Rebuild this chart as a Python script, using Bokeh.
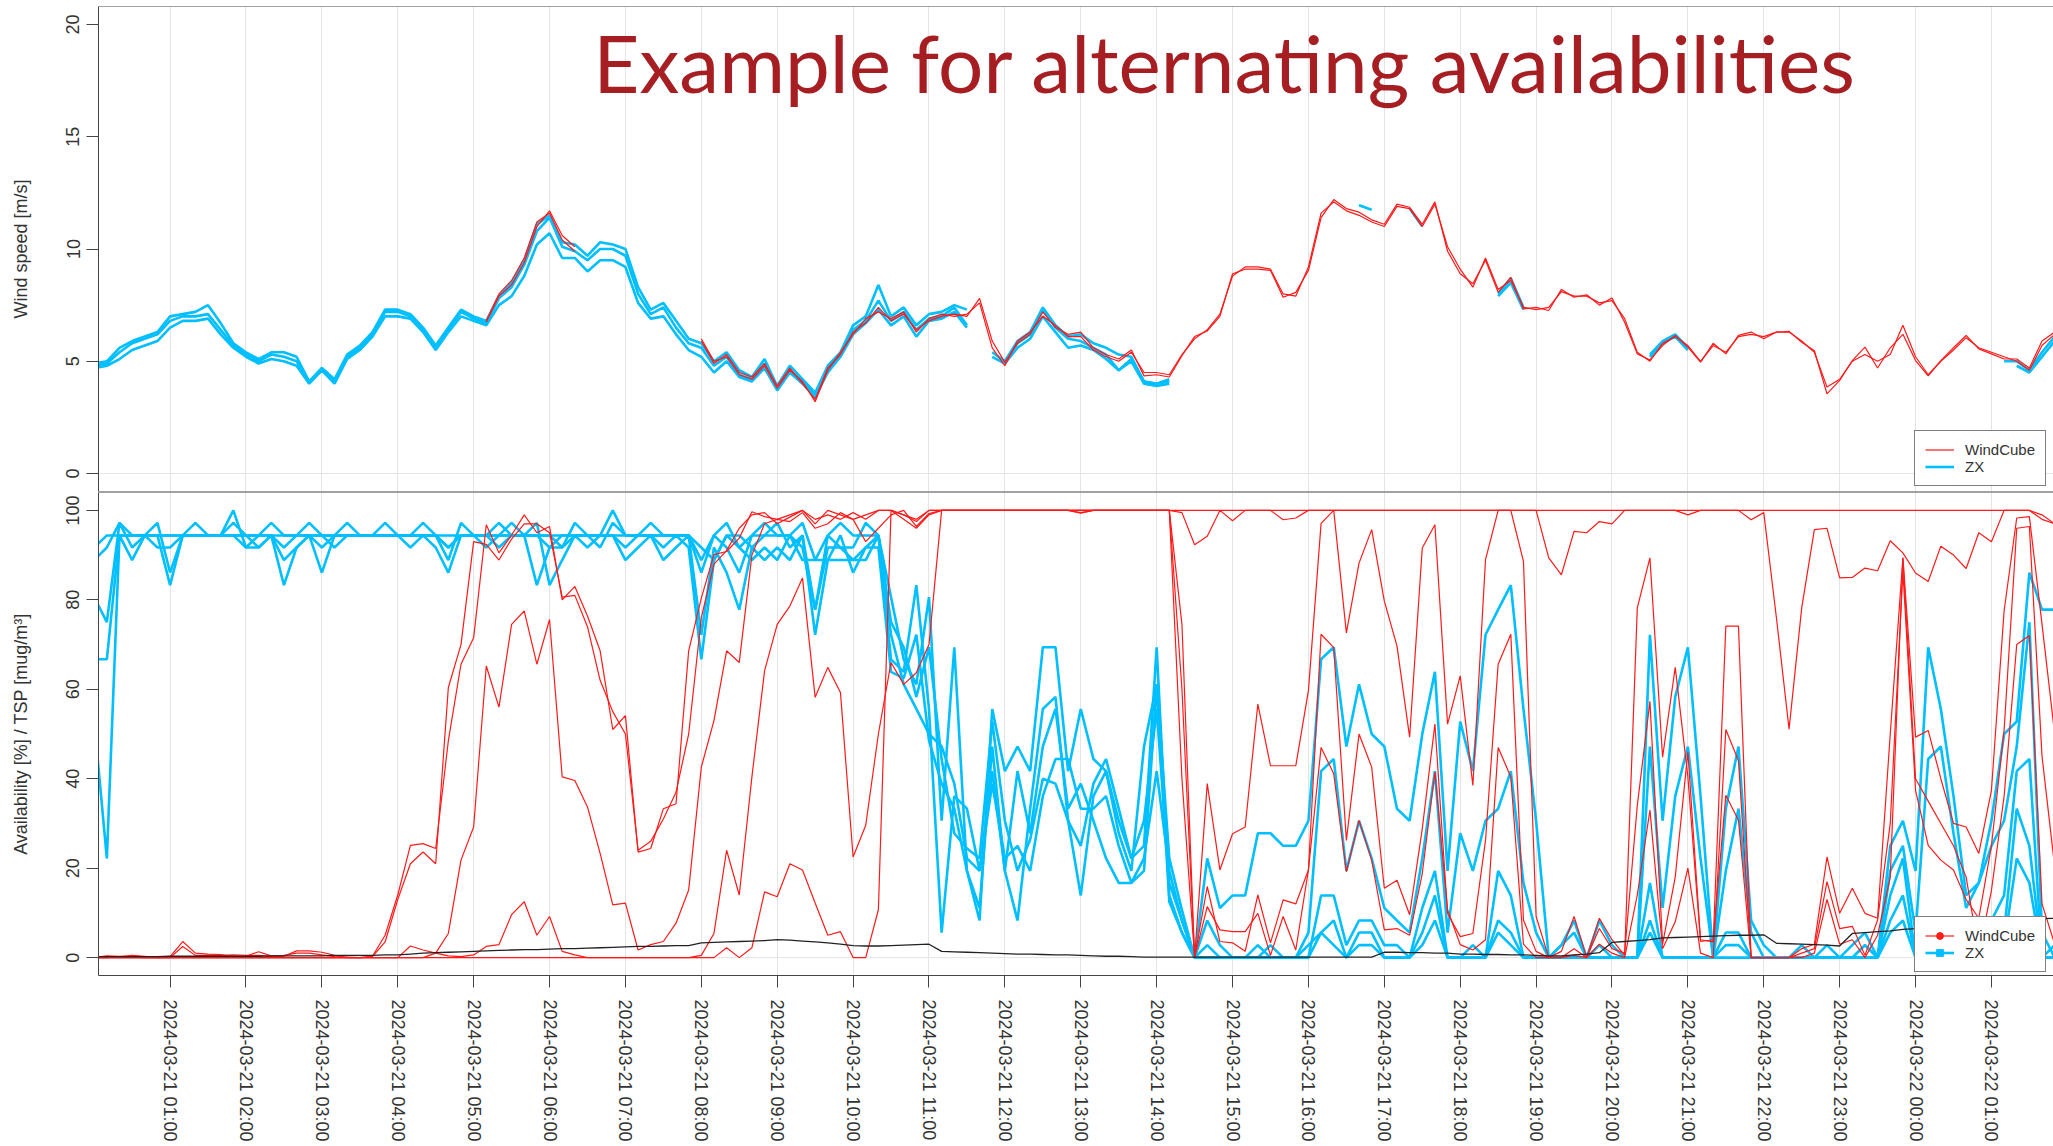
import pandas as pd
from bokeh.plotting import figure
from bokeh.layouts import column
from bokeh.models import (Range1d, FixedTicker, DatetimeTickFormatter, Span, Label,
                          Legend, LegendItem)
from bokeh.embed import file_html
from bokeh.resources import INLINE

nan = float("nan")

# 10-minute time stamps, 2024-03-21 00:00 ... 2024-03-22 01:50
times = pd.date_range("2024-03-21 00:00", periods=156, freq="10min")
hour_ticks = pd.date_range("2024-03-21 01:00", "2024-03-22 01:00", freq="1h")
hour_ms = [t.value / 1e6 for t in hour_ticks]

# ---------------- wind speed [m/s] ----------------
ws_zx_1 = [
    4.8, 4.9, 5.4, 5.8, 6.0, 6.2, 6.8, 7.0, 7.0, 7.1, 6.4, 5.7,
    5.3, 5.0, 5.3, 5.2, 5.0, 4.1, 4.6, 4.1, 5.2, 5.6, 6.2, 7.2,
    7.2, 7.0, 6.4, 5.6, 6.4, 7.2, 6.9, 6.7, 7.8, 8.3, 9.3, 10.8,
    11.4, 10.1, 9.9, 9.5, 10.0, 10.0, 9.7, 8.0, 7.1, 7.4, 6.5, 5.8,
    5.6, 4.8, 5.2, 4.4, 4.2, 4.9, 3.8, 4.6, 4.1, 3.5, 4.6, 5.3,
    6.4, 6.8, 7.7, 6.8, 7.2, 6.4, 6.9, 7.0, 7.4, 6.6, nan, 5.4,
    5.0, 5.8, 6.2, 7.3, 6.5, 6.0, 5.9, 5.6, 5.3, 4.6, 5.1, 4.1,
    4.0, 4.1, nan, nan, nan, nan, nan, nan, nan, nan, nan, nan,
    nan, nan, nan, nan, 11.95, 11.75, nan, nan, 11.8, 11.0, nan, nan,
    nan, nan, nan, 8.0, 8.7, 7.4, nan, nan, nan, nan, nan, nan,
    nan, nan, nan, 5.3, 5.9, 6.2, 5.6, nan, nan, nan, nan, nan,
    nan, nan, nan, nan, nan, nan, nan, nan, nan, nan, nan, nan,
    nan, nan, nan, nan, nan, nan, nan, 5.0, 5.0, 4.6, 5.4, 6.1,
]
ws_zx_2 = [
    4.7, 4.8, 5.1, 5.5, 5.7, 5.9, 6.5, 6.8, 6.8, 6.9, 6.2, 5.6,
    5.2, 4.9, 5.1, 5.0, 4.8, 4.0, 4.6, 4.0, 5.1, 5.5, 6.1, 7.0,
    7.0, 6.9, 6.3, 5.5, 6.3, 7.0, 6.8, 6.6, 7.5, 7.9, 8.8, 10.2,
    10.7, 9.6, 9.6, 9.0, 9.5, 9.5, 9.2, 7.6, 6.9, 7.0, 6.2, 5.5,
    5.2, 4.5, 5.0, 4.3, 4.1, 4.7, 3.7, 4.5, 4.0, 3.4, 4.5, 5.2,
    6.2, 6.7, 7.3, 6.6, 7.0, 6.1, 6.8, 6.9, 7.2, 6.5, nan, 5.2,
    4.9, 5.6, 6.0, 7.0, 6.3, 5.6, 5.7, 5.5, 5.1, 4.6, 5.0, 4.0,
    3.9, 4.0, nan, nan, nan, nan, nan, nan, nan, nan, nan, nan,
    nan, nan, nan, nan, nan, nan, nan, nan, nan, nan, nan, nan,
    nan, nan, nan, 7.9, 8.5, 7.3, nan, nan, nan, nan, nan, nan,
    nan, nan, nan, 5.2, 5.8, 6.1, 5.5, nan, nan, nan, nan, nan,
    nan, nan, nan, nan, nan, nan, nan, nan, nan, nan, nan, nan,
    nan, nan, nan, nan, nan, nan, nan, nan, 4.8, 4.5, 5.2, 5.9,
]
ws_zx_3 = [
    4.9, 5.0, 5.6, 5.9, 6.1, 6.3, 7.0, 7.1, 7.2, 7.5, 6.7, 5.8,
    5.4, 5.1, 5.4, 5.4, 5.2, 4.1, 4.7, 4.2, 5.3, 5.7, 6.3, 7.3,
    7.3, 7.1, 6.5, 5.7, 6.5, 7.3, 7.0, 6.8, 7.9, 8.5, 9.5, 11.1,
    11.5, 10.3, 10.2, 9.7, 10.3, 10.2, 10.0, 8.3, 7.3, 7.6, 6.8, 6.0,
    5.8, 5.0, 5.4, 4.6, 4.3, 5.1, 3.9, 4.8, 4.2, 3.6, 4.8, 5.4,
    6.6, 7.0, 8.4, 7.0, 7.4, 6.6, 7.1, 7.2, 7.5, 7.3, nan, nan,
    5.0, 5.9, 6.3, 7.4, 6.6, 6.1, 6.2, 5.8, 5.6, 5.3, 5.2, 4.1,
    4.0, 4.2, nan, nan, nan, nan, nan, nan, nan, nan, nan, nan,
    nan, nan, nan, nan, nan, nan, nan, nan, nan, nan, nan, nan,
    nan, nan, nan, nan, nan, nan, nan, nan, nan, nan, nan, nan,
    nan, nan, nan, nan, nan, nan, nan, nan, nan, nan, nan, nan,
    nan, nan, nan, nan, nan, nan, nan, nan, nan, nan, nan, nan,
    nan, nan, nan, nan, nan, nan, nan, nan, nan, nan, nan, nan,
]
ws_wc_1 = [
    nan, nan, nan, nan, nan, nan, nan, nan, nan, nan, nan, nan,
    nan, nan, nan, nan, nan, nan, nan, nan, nan, nan, nan, nan,
    nan, nan, nan, nan, nan, nan, nan, 6.75, 7.9, 8.4, 9.4, 11.0,
    11.7, 10.6, 10.1, nan, nan, nan, nan, nan, nan, nan, nan, nan,
    5.9, 4.9, 5.3, 4.5, 4.3, 4.9, 3.9, 4.7, 4.0, 3.3, 4.7, 5.3,
    6.3, 6.7, 7.4, 6.8, 7.1, 6.4, 6.8, 7.0, 7.1, 7.0, 7.8, 5.9,
    4.95, 5.8, 6.2, 7.2, 6.5, 6.2, 6.3, 5.6, 5.3, 5.1, 5.5, 4.35,
    4.4, 4.3, 5.25, 6.1, 6.35, 7.0, 8.9, 9.1, 9.1, 9.05, 7.85, 8.07,
    9.04, 11.4, 12.2, 11.8, 11.64, 11.3, 11.1, 12.0, 11.86, 11.1, 12.1, 9.9,
    8.9, 8.45, 9.5, 8.07, 8.74, 7.33, 7.4, 7.26, 8.2, 7.85, 7.96, 7.5,
    7.82, 6.74, 5.33, 5.06, 5.7, 6.15, 5.63, 4.96, 5.8, 5.33, 6.15, 6.3,
    6.0, 6.3, 6.33, 5.85, 5.47, 3.55, 4.15, 5.03, 5.63, 4.7, 5.6, 6.2,
    5.03, 4.35, 5.03, 5.6, 6.15, 5.55, 5.33, 5.1, 5.1, 4.7, 5.9, 6.3,
]
ws_wc_2 = [
    nan, nan, nan, nan, nan, nan, nan, nan, nan, nan, nan, nan,
    nan, nan, nan, nan, nan, nan, nan, nan, nan, nan, nan, nan,
    nan, nan, nan, nan, nan, nan, nan, 6.8, 8.0, 8.6, 9.6, 11.2,
    11.6, 10.4, 9.9, nan, nan, nan, nan, nan, nan, nan, nan, nan,
    6.0, 5.0, 5.2, 4.4, 4.2, 4.8, 3.8, 4.6, 4.1, 3.2, 4.6, 5.4,
    6.2, 6.9, 7.2, 6.9, 7.2, 6.3, 6.9, 7.1, 7.0, 7.1, 7.6, 5.6,
    4.8, 5.9, 6.3, 7.0, 6.6, 6.1, 6.1, 5.5, 5.2, 5.0, 5.4, 4.5,
    4.5, 4.4, 5.3, 6.0, 6.4, 7.1, 8.8, 9.2, 9.2, 9.1, 8.0, 7.9,
    9.2, 11.6, 12.1, 11.7, 11.5, 11.2, 11.0, 11.9, 11.8, 11.0, 12.0, 10.1,
    9.1, 8.3, 9.6, 8.2, 8.6, 7.4, 7.3, 7.4, 8.1, 7.9, 7.9, 7.6,
    7.7, 6.9, 5.4, 5.0, 5.8, 6.1, 5.7, 5.0, 5.7, 5.4, 6.1, 6.2,
    6.1, 6.3, 6.3, 5.9, 5.4, 3.85, 4.2, 5.0, 5.3, 5.0, 5.3, 6.6,
    5.2, 4.4, 5.0, 5.5, 6.05, 5.6, 5.4, 5.2, 5.0, 4.6, 5.7, 6.2,
]

# ---------------- availability [%] ----------------
av_wc_1 = [
    0, 0.4, 0.3, 0.2, 0, 0, 0.2, 3.6, 1.0, 0.8, 0.7, 0.2,
    0.3, 1.3, 0.4, 0.5, 1.0, 1.0, 0.6, 0.2, 0.1, 0, 0.3, 5.0,
    14.0, 25.1, 25.5, 24.4, 48.5, 65.6, 71.5, 96.8, 90.5, 94.5, 99.0, 95.0,
    96.4, 80.0, 83.0, 76.4, 68.6, 51.0, 54.1, 23.6, 24.4, 33.3, 34.4, 68.6,
    80.4, 90.1, 90.8, 93.8, 99.7, 98.6, 98.0, 99.0, 100, 97.0, 100, 99.0,
    98.0, 99.0, 100, 100, 98.0, 96.0, 99.0, 100, 100, 100, 100, 100,
    100, 100, 100, 100, 100, 100, 100, 100, 100, 100, 100, 100,
    100, 100, 74.5, 0, 38.9, 19.6, 27.7, 29.2, 56.7, 42.9, 42.9, 42.9,
    59.7, 97.1, 100, 72.6, 88.2, 95.7, 79.7, 69.7, 49.3, 91.6, 96.8, 52.2,
    63.0, 38.5, 89.0, 100, 100, 88.6, 9.2, 0, 1.4, 9.2, 0, 8.8,
    4.0, 0.5, 78.2, 89.4, 44.8, 64.9, 40.4, 3.6, 4.0, 36.3, 30.7, 0,
    0, 0, 0, 2.0, 3.0, 22.5, 9.9, 15.5, 9.9, 8.8, 50.0, 89.4,
    49.3, 50.8, 40.0, 30.0, 29.2, 23.3, 37.4, 77.5, 98.3, 98.6, 74.5, 50.0,
]
av_wc_2 = [
    0, 0, 0.2, 0.5, 0.3, 0, 0, 2.5, 0.5, 0.5, 0.5, 0.6,
    0.5, 0.5, 0.2, 0.3, 1.5, 1.5, 1.2, 0.5, 0, 0, 0.2, 3.5,
    13.0, 21.0, 23.6, 21.0, 60.4, 70.0, 93.0, 92.4, 88.9, 93.6, 97.0, 97.0,
    95.0, 80.6, 81.0, 74.0, 62.0, 55.0, 50.0, 24.0, 26.0, 31.0, 37.0, 50.0,
    76.0, 88.0, 91.0, 96.0, 99.0, 99.5, 97.0, 98.5, 100, 98.0, 99.0, 98.0,
    99.5, 98.0, 100, 100, 99.0, 97.5, 100, 100, 100, 100, 100, 100,
    100, 100, 100, 100, 100, 100, 99.4, 100, 100, 100, 100, 100,
    100, 100, 100, 100, 100, 100, 100, 100, 100, 100, 100, 100,
    100, 100, 100, 100, 100, 100, 100, 100, 100, 100, 100, 100,
    100, 100, 100, 100, 100, 100, 100, 100, 100, 100, 100, 100,
    100, 100, 100, 100, 100, 100, 100, 100, 100, 100, 100, 100,
    100, 100, 100, 100, 100, 100, 100, 100, 100, 100, 100, 100,
    100, 100, 100, 100, 100, 100, 100, 100, 100, 100, 98.0, 97.0,
]
av_wc_3 = [
    0, 0, 0, 0, 0, 0, 0, 0, 0, 0, 0, 0,
    0, 0, 0, 0, 0, 0, 0, 0, 0, 0, 0, 0,
    0, 0, 0, 1.0, 5.4, 21.8, 29.2, 65.2, 56.0, 74.5, 77.5, 65.6,
    75.6, 40.4, 39.6, 33.7, 23.3, 11.8, 12.2, 1.7, 2.9, 3.6, 7.7, 15.1,
    42.6, 53.0, 68.6, 66.0, 90.0, 97.0, 98.0, 97.5, 99.5, 96.0, 97.0, 99.5,
    98.0, 93.0, 96.0, 99.0, 100, 96.4, 99.3, 100, 100, 100, 100, 100,
    100, 100, 100, 100, 100, 100, 100, 100, 100, 100, 100, 100,
    100, 100, 60.0, 0, 15.9, 3.6, 3.3, 1.4, 14.0, 3.3, 12.9, 12.0,
    19.6, 72.3, 69.3, 26.2, 50.0, 42.6, 15.5, 17.3, 9.6, 28.8, 52.2, 9.9,
    4.7, 5.4, 26.2, 65.6, 72.3, 8.4, 1.4, 0, 0, 0.5, 0, 6.5,
    2.0, 1.0, 34.0, 57.3, 3.0, 18.0, 46.0, 4.0, 3.5, 74.1, 74.1, 0,
    0, 0, 0, 1.0, 2.0, 17.0, 6.5, 7.0, 0.5, 8.4, 30.0, 86.4,
    37.4, 25.1, 21.8, 19.6, 13.0, 8.8, 25.0, 50.8, 96.0, 96.4, 45.0, 20.3,
]
av_wc_4 = [
    0, 0, 0, 0, 0, 0, 0, 0, 0, 0, 0, 0,
    0, 0, 0, 0, 0, 0, 0, 0, 0, 0, 0, 0,
    0, 2.6, 1.7, 1.0, 0.4, 0.2, 0.6, 2.5, 2.9, 9.6, 12.5, 5.0,
    9.2, 1.4, 0.6, 0, 0, 0, 0, 0, 0, 0, 0, 0,
    0, 0, 2.2, 0, 2.2, 14.7, 13.6, 21.0, 19.6, 12.2, 5.0, 5.8,
    0, 0, 10.7, 100, 99.0, 98.0, 100, 100, 100, 100, 100, 100,
    100, 100, 100, 100, 100, 100, 100, 100, 100, 100, 100, 100,
    100, 100, 40.0, 0, 11.4, 6.2, 5.8, 5.8, 9.9, 0.5, 9.2, 1.7,
    19.6, 47.0, 41.1, 19.2, 30.7, 21.8, 6.2, 6.5, 5.0, 18.8, 41.5, 10.7,
    2.9, 1.7, 4.0, 47.0, 40.4, 3.0, 0, 0, 0, 2.0, 0, 3.0,
    1.0, 0, 14.0, 33.0, 2.0, 8.0, 20.0, 1.0, 0, 51.0, 44.0, 0,
    0, 0, 0, 0, 1.0, 13.0, 3.0, 4.0, 0, 5.0, 18.0, 89.4,
    40.0, 35.0, 30.0, 25.0, 18.0, 1.0, 15.0, 36.0, 70.0, 72.0, 12.0, 3.0,
]
av_wc_5 = [
    0, 0, 0, 0, 0, 0, 0, 0, 0, 0, 0, 0,
    0, 0, 0, 0, 0, 0, 0, 0, 0, 0, 0, 0,
    0, 0, 0, 0, 0, 0, 0, 0, 0, 0, 0, 0,
    0, 0, 0, 0, 0, 0, 0, 0, 0, 0, 0, 0,
    0.5, 5.4, 24.0, 14.0, 40.4, 64.1, 74.5, 78.6, 84.9, 58.2, 64.9, 59.3,
    22.5, 29.6, 50.0, 66.0, 61.1, 63.7, 70.0, 100, 100, 100, 100, 100,
    100, 100, 100, 100, 100, 100, 99.5, 100, 100, 100, 100, 100,
    100, 100, 99.5, 92.3, 94.2, 100, 97.7, 100, 100, 100, 97.9, 98.3,
    100, 100, 100, 100, 100, 100, 100, 100, 100, 100, 100, 100,
    100, 100, 100, 100, 100, 100, 100, 89.4, 85.6, 95.3, 95.0, 97.5,
    97.0, 100, 100, 100, 100, 100, 99.0, 100, 100, 100, 100, 97.9,
    99.5, 76.0, 51.1, 78.2, 95.7, 96.0, 84.9, 85.0, 87.1, 86.5, 93.2, 90.5,
    86.0, 84.1, 92.0, 90.0, 87.0, 95.0, 93.0, 100, 100, 100, 99.0, 97.0,
]
av_zx_1 = [
    88.9, 91.7, 97.2, 94.4, 94.4, 91.7, 91.7, 94.4, 94.4, 94.4, 94.4, 97.2,
    94.4, 94.4, 97.2, 94.4, 94.4, 97.2, 94.4, 94.4, 97.2, 94.4, 94.4, 97.2,
    94.4, 91.7, 94.4, 94.4, 94.4, 94.4, 94.4, 94.4, 97.2, 94.4, 94.4, 94.4,
    91.7, 91.7, 97.2, 94.4, 94.4, 100, 94.4, 94.4, 97.2, 94.4, 94.4, 94.4,
    88.9, 94.4, 97.2, 91.7, 94.4, 97.2, 94.4, 94.4, 97.2, 88.9, 94.4, 97.2,
    94.4, 94.4, 94.4, 80.6, 66.7, 61.1, 80.6, 30.6, 69.4, 19.4, 8.3, 55.6,
    41.7, 47.2, 41.7, 69.4, 69.4, 41.7, 55.6, 44.4, 41.7, 30.6, 22.2, 25.0,
    69.4, 13.9, 5.6, 0, 22.2, 11.1, 13.9, 13.9, 27.8, 27.8, 25.0, 25.0,
    30.6, 66.7, 69.4, 47.2, 61.1, 50.0, 47.2, 33.3, 30.6, 50.0, 63.9, 19.4,
    52.8, 41.7, 72.2, 77.8, 83.3, 55.6, 30.6, 0, 2.8, 8.3, 0, 8.3,
    2.8, 0, 0, 72.2, 30.6, 58.3, 69.4, 36.1, 0, 33.3, 47.2, 8.3,
    2.8, 0, 0, 0, 0, 2.8, 0, 2.8, 5.6, 0, 25.0, 30.6,
    19.4, 69.4, 55.6, 36.1, 13.9, 16.7, 30.6, 50.0, 52.8, 86.1, 77.8, 77.8,
]
av_zx_2 = [
    80.6, 75.0, 97.2, 91.7, 94.4, 97.2, 86.1, 94.4, 94.4, 94.4, 94.4, 94.4,
    91.7, 94.4, 94.4, 83.3, 91.7, 94.4, 86.1, 94.4, 94.4, 94.4, 94.4, 94.4,
    94.4, 94.4, 94.4, 91.7, 86.1, 94.4, 94.4, 94.4, 91.7, 94.4, 94.4, 83.3,
    91.7, 94.4, 94.4, 94.4, 91.7, 97.2, 94.4, 94.4, 94.4, 88.9, 91.7, 94.4,
    72.2, 91.7, 86.1, 77.8, 91.7, 88.9, 91.7, 88.9, 94.4, 72.2, 88.9, 94.4,
    86.1, 91.7, 94.4, 72.2, 61.1, 55.6, 50.0, 47.2, 38.9, 22.2, 19.4, 41.7,
    19.4, 8.3, 33.3, 55.6, 58.3, 30.6, 13.9, 36.1, 41.7, 27.8, 19.4, 47.2,
    61.1, 22.2, 10.6, 0, 0, 0, 0, 0, 0, 2.8, 0, 0,
    0, 13.9, 13.9, 2.8, 8.3, 8.3, 2.8, 2.8, 0, 11.1, 19.4, 0,
    0, 2.8, 0, 19.4, 13.9, 0, 0, 0, 0, 0, 0, 2.8,
    0, 0, 0, 16.7, 0, 0, 0, 0, 0, 2.8, 2.8, 0,
    0, 0, 0, 2.8, 0, 0, 0, 0, 2.8, 0, 13.9, 22.2,
    0, 2.8, 0, 0, 0, 0, 8.3, 13.9, 41.7, 44.4, 0, 2.8,
]
av_zx_3 = [
    66.7, 66.7, 94.4, 94.4, 94.4, 94.4, 94.4, 94.4, 97.2, 94.4, 94.4, 94.4,
    94.4, 91.7, 94.4, 91.7, 94.4, 94.4, 94.4, 91.7, 94.4, 94.4, 94.4, 94.4,
    94.4, 94.4, 97.2, 94.4, 91.7, 94.4, 94.4, 94.4, 94.4, 94.4, 94.4, 94.4,
    94.4, 94.4, 94.4, 94.4, 94.4, 94.4, 94.4, 94.4, 94.4, 94.4, 94.4, 94.4,
    86.1, 94.4, 91.7, 86.1, 94.4, 94.4, 97.2, 91.7, 94.4, 77.8, 91.7, 91.7,
    91.7, 97.2, 94.4, 66.7, 63.9, 83.3, 55.6, 5.6, 36.1, 33.3, 19.4, 38.9,
    22.2, 25.0, 19.4, 36.1, 44.4, 44.4, 33.3, 33.3, 36.1, 25.0, 16.7, 22.2,
    41.7, 19.4, 8.3, 0, 0, 0, 0, 0, 2.8, 0, 0, 0,
    2.8, 5.6, 2.8, 0, 2.8, 2.8, 0, 0, 0, 2.8, 8.3, 0,
    0, 0, 0, 5.6, 2.8, 0, 0, 0, 0, 0, 0, 0,
    0, 0, 0, 5.6, 0, 0, 0, 0, 0, 0, 0, 0,
    0, 0, 0, 0, 0, 0, 0, 0, 0, 0, 5.6, 8.3,
    0, 0, 0, 0, 0, 0, 0, 2.8, 22.2, 16.7, 0, 0,
]
av_zx_4 = [
    52.8, 22.2, 94.4, 88.9, 94.4, 94.4, 83.3, 94.4, 94.4, 94.4, 94.4, 100,
    91.7, 91.7, 94.4, 88.9, 91.7, 94.4, 91.7, 94.4, 94.4, 94.4, 94.4, 94.4,
    94.4, 94.4, 94.4, 94.4, 88.9, 97.2, 94.4, 91.7, 94.4, 97.2, 94.4, 97.2,
    83.3, 88.9, 94.4, 91.7, 94.4, 94.4, 88.9, 91.7, 94.4, 91.7, 94.4, 91.7,
    66.7, 88.9, 94.4, 91.7, 88.9, 91.7, 88.9, 94.4, 91.7, 77.8, 94.4, 91.7,
    88.9, 88.9, 94.4, 75.0, 69.4, 58.3, 69.4, 44.4, 27.8, 24.4, 22.2, 52.8,
    30.6, 19.4, 26.4, 40.0, 38.9, 30.6, 25.0, 38.9, 44.4, 33.3, 22.2, 30.6,
    55.6, 16.7, 8.3, 0, 2.8, 0, 0, 0, 0, 0, 0, 0,
    0, 5.6, 8.3, 0, 5.6, 5.6, 0, 0, 0, 5.6, 13.9, 0,
    0, 0, 0, 8.3, 5.6, 0, 0, 0, 0, 0, 0, 0,
    0, 0, 0, 8.3, 0, 0, 0, 0, 0, 5.6, 5.6, 0,
    0, 0, 0, 0, 0, 0, 0, 0, 0, 0, 8.3, 13.9,
    0, 0, 0, 0, 0, 0, 2.8, 5.6, 33.3, 25.0, 0, 0,
]
av_zx_5 = [
    91.7, 94.4, 94.4, 94.4, 94.4, 94.4, 94.4, 94.4, 94.4, 94.4, 94.4, 94.4,
    94.4, 94.4, 94.4, 94.4, 94.4, 94.4, 94.4, 94.4, 94.4, 94.4, 94.4, 94.4,
    94.4, 94.4, 94.4, 94.4, 91.7, 94.4, 94.4, 94.4, 94.4, 94.4, 94.4, 94.4,
    94.4, 91.7, 94.4, 94.4, 94.4, 94.4, 91.7, 94.4, 94.4, 94.4, 94.4, 94.4,
    91.7, 88.9, 94.4, 94.4, 91.7, 94.4, 94.4, 94.4, 88.9, 88.9, 88.9, 88.9,
    88.9, 91.7, 91.7, 63.9, 62.5, 72.2, 48.6, 38.9, 33.3, 19.4, 11.1, 47.2,
    19.4, 41.7, 27.8, 47.2, 55.6, 33.3, 38.9, 30.6, 22.2, 16.7, 16.7, 19.4,
    61.1, 12.5, 5.6, 0, 8.3, 2.8, 0, 0, 0, 0, 0, 0,
    5.6, 41.7, 44.4, 19.4, 30.6, 22.2, 11.1, 8.3, 5.6, 22.2, 41.7, 5.6,
    27.8, 19.4, 30.6, 33.3, 41.7, 16.7, 5.6, 0, 2.8, 5.6, 0, 0,
    0, 0, 0, 47.2, 11.1, 36.1, 47.2, 22.2, 0, 19.4, 33.3, 5.6,
    0, 0, 0, 0, 0, 0, 0, 0, 2.8, 0, 19.4, 25.0,
    5.6, 44.4, 47.2, 27.8, 11.1, 16.7, 25.0, 30.6, 47.2, 75.0, 5.6, 0,
]

# ---------------- TSP [mug/m3] ----------------
tsp = [
    0.2, 0.2, 0.2, 0.2, 0.2, 0.2, 0.3, 0.3, 0.3, 0.3, 0.3, 0.3,
    0.3, 0.3, 0.4, 0.4, 0.4, 0.4, 0.4, 0.5, 0.5, 0.5, 0.5, 0.6,
    0.6, 0.8, 1.0, 1.1, 1.2, 1.3, 1.4, 1.5, 1.6, 1.7, 1.8, 1.8,
    1.9, 2.0, 2.0, 2.1, 2.2, 2.3, 2.4, 2.5, 2.5, 2.6, 2.7, 2.7,
    3.3, 3.4, 3.5, 3.6, 3.7, 3.8, 4.0, 3.9, 3.7, 3.5, 3.3, 3.0,
    2.7, 2.6, 2.6, 2.7, 2.8, 2.9, 3.0, 1.4, 1.3, 1.2, 1.1, 1.0,
    0.9, 0.8, 0.8, 0.7, 0.6, 0.6, 0.5, 0.4, 0.3, 0.3, 0.2, 0.1,
    0.1, 0.1, 0.1, 0.1, 0.1, 0.1, 0.1, 0.1, 0.1, 0.1, 0.1, 0.1,
    0.1, 0.1, 0.1, 0.1, 0.1, 0.1, 1.2, 1.2, 1.1, 1.1, 1.0, 1.0,
    0.8, 0.8, 0.7, 0.7, 0.6, 0.6, 0.5, 0.4, 0.4, 0.6, 0.8, 1.1,
    3.4, 3.6, 3.8, 4.0, 4.4, 4.5, 4.6, 4.7, 4.8, 4.9, 5.0, 5.0,
    5.1, 3.2, 3.1, 3.0, 2.9, 2.8, 2.6, 5.4, 5.6, 5.8, 6.0, 6.3,
    6.5, 7.6, 7.8, 7.9, 8.1, 8.2, 8.3, 8.4, 8.5, 8.6, 8.7, 8.8,
]

ws_zx = [ws_zx_1, ws_zx_2, ws_zx_3]
ws_wc = [ws_wc_1, ws_wc_2]
av_zx = [av_zx_1, av_zx_2, av_zx_3, av_zx_4, av_zx_5]
av_wc = [av_wc_1, av_wc_2, av_wc_3, av_wc_4, av_wc_5]
for s in ws_zx + ws_wc + av_zx + av_wc + [tsp]:
    assert len(s) == len(times)

# ---------------- styling ----------------
RED = "#FF1A1A"
BLUE = "#00BFFF"
FRAME = "#444444"
GRID = "#e4e4e4"
TXT = "#333333"
FONT = "Liberation Sans"

x_range = Range1d(start=pd.Timestamp("2024-03-21 00:03:24"),
                  end=pd.Timestamp("2024-03-22 01:49:04"))


def style_common(p):
    p.outline_line_color = None
    p.background_fill_color = "white"
    p.border_fill_color = "white"
    p.xgrid.ticker = FixedTicker(ticks=hour_ms)
    p.xgrid.grid_line_color = GRID
    p.xgrid.grid_line_width = 1
    p.ygrid.visible = False
    ax = p.yaxis[0]
    ax.axis_line_color = FRAME
    ax.major_tick_line_color = FRAME
    ax.major_tick_in = 0
    ax.major_tick_out = 12
    ax.minor_tick_line_color = None
    ax.major_label_orientation = "vertical"
    ax.major_label_text_font = FONT
    ax.major_label_text_font_size = "18px"
    ax.major_label_text_color = TXT
    ax.major_label_standoff = 7
    ax.axis_label_text_font = FONT
    ax.axis_label_text_font_size = "18px"
    ax.axis_label_text_font_style = "normal"
    ax.axis_label_text_color = TXT
    ax.axis_label_standoff = 33


def legend_for(p, items, loc):
    lg = Legend(items=items, location=loc, orientation="vertical")
    lg.border_line_color = "black"
    lg.border_line_width = 1
    lg.background_fill_color = "white"
    lg.background_fill_alpha = 1.0
    lg.label_text_font = FONT
    lg.label_text_font_size = "15px"
    lg.label_text_color = TXT
    lg.glyph_width = 29
    lg.glyph_height = 17
    lg.label_height = 17
    lg.label_standoff = 11
    lg.spacing = 0
    lg.padding = 10
    lg.margin = 0
    p.add_layout(lg)


# ---------------- wind speed panel ----------------
top = figure(width=2053, height=492, x_range=x_range, y_range=Range1d(-0.8, 20.8),
             x_axis_type="datetime", x_axis_location=None,
             output_backend="svg", toolbar_location=None,
             min_border_left=98, min_border_right=0, min_border_top=6, min_border_bottom=1)
style_common(top)
top.yaxis.ticker = FixedTicker(ticks=[0, 5, 10, 15, 20])
top.yaxis.axis_label = "Wind speed [m/s]"
top.add_layout(Span(location=0, dimension="width", line_color=GRID, line_width=1, level="underlay"))

zx_top = [top.line(times, s, line_color=BLUE, line_width=2.6) for s in ws_zx]
wc_top = [top.line(times, s, line_color=RED, line_width=1.2) for s in ws_wc]

top.add_layout(Span(location=20.8, dimension="width", line_color=FRAME, line_width=1.2))
top.add_layout(Span(location=-0.8, dimension="width", line_color=FRAME, line_width=1.2))

title_x = pd.Timestamp("2024-03-21 14:54").value / 1e6
top.add_layout(Label(x=title_x, y=18.33, text="Example for alternating availabilities",
                     text_align="center", text_baseline="alphabetic",
                     text_font="Lato", text_font_size="80px", text_color="#A61E22"))

legend_for(top, [LegendItem(label="WindCube", renderers=[wc_top[0]]),
                 LegendItem(label="ZX", renderers=[zx_top[0]])], (1816, 5))

# ---------------- availability / TSP panel ----------------
bot = figure(width=2053, height=654, x_range=x_range, y_range=Range1d(-4, 104),
             x_axis_type="datetime", output_backend="svg", toolbar_location=None,
             min_border_left=98, min_border_right=0, min_border_top=0, min_border_bottom=171)
style_common(bot)
bot.yaxis.ticker = FixedTicker(ticks=[0, 20, 40, 60, 80, 100])
bot.yaxis.axis_label = "Availability [%] / TSP [mug/m\u00b3]"
bot.add_layout(Span(location=0, dimension="width", line_color=GRID, line_width=1, level="underlay"))

xa = bot.xaxis[0]
xa.ticker = FixedTicker(ticks=hour_ms)
fmt = "%Y-%m-%d %H:%M"
xa.formatter = DatetimeTickFormatter(microseconds=fmt, milliseconds=fmt, seconds=fmt,
                                     minsec=fmt, minutes=fmt, hourmin=fmt, hours=fmt,
                                     days=fmt, months=fmt, years=fmt)
xa.axis_line_color = FRAME
xa.major_tick_line_color = FRAME
xa.major_tick_in = 0
xa.major_tick_out = 12
xa.minor_tick_line_color = None
xa.major_label_orientation = "vertical"
xa.major_label_text_font = FONT
xa.major_label_text_font_size = "18px"
xa.major_label_text_color = TXT
xa.major_label_standoff = 12

zx_bot = [bot.line(times, s, line_color=BLUE, line_width=2.6) for s in av_zx]
wc_bot = [bot.line(times, s, line_color=RED, line_width=1.2) for s in av_wc]
bot.line(times, tsp, line_color="#222222", line_width=1.3)

wc_mark = bot.scatter([nan], [nan], marker="circle", size=6, color=RED)
zx_mark = bot.scatter([nan], [nan], marker="square", size=6, color=BLUE)

bot.add_layout(Span(location=104, dimension="width", line_color=FRAME, line_width=1.2))

legend_for(bot, [LegendItem(label="WindCube", renderers=[wc_bot[0], wc_mark]),
                 LegendItem(label="ZX", renderers=[zx_bot[0], zx_mark])], (1816, 3))

layout = column(top, bot, spacing=0)
open("out.html", "w").write(file_html(layout, INLINE))
